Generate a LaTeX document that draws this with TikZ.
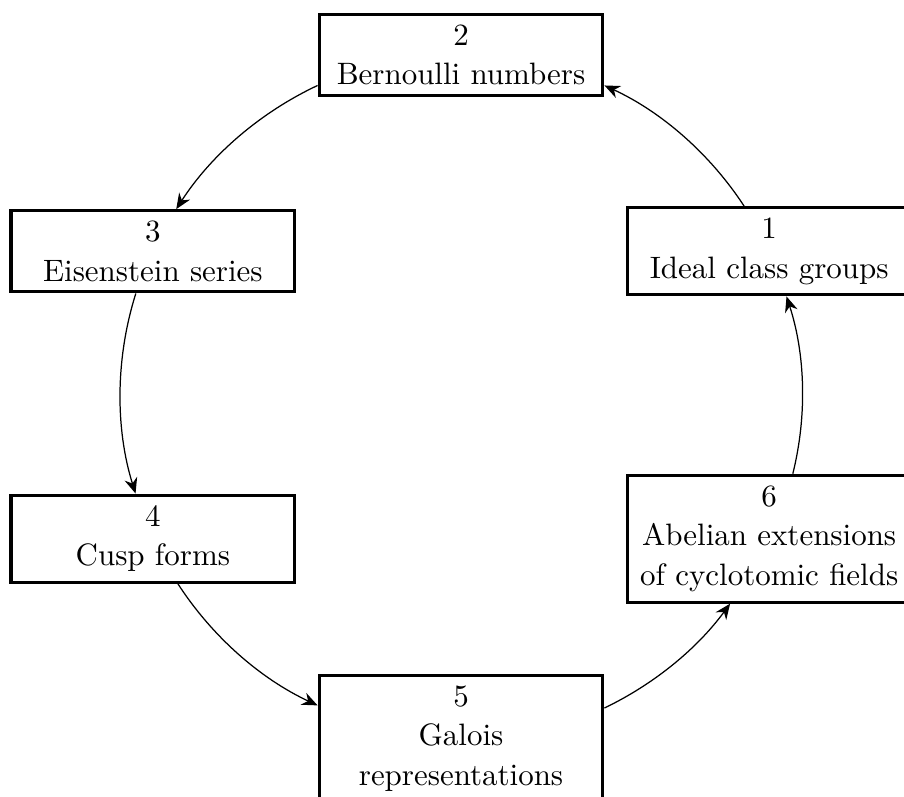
\documentclass[tikz,border=0pt]{standalone}
\usepackage{tikz}
\usetikzlibrary{arrows.meta}

\begin{document}
\begin{tikzpicture}[
  box/.style={draw, line width=1pt, text width=85pt, align=center,
    font=\fontsize{10}{12.8}\selectfont},
  cyc/.style={-{Stealth[length=5pt,width=4.2pt]}, bend right=16, looseness=.87}
]
\useasboundingbox (-5.234,-4.553) rectangle (5.029,4.484);
% Boxes on a circle
\def\rad{3.86}
\node[box] (n1) at (25:\rad) {1\\Ideal class groups};
\node[box] (n2) at (90:\rad) {2\\Bernoulli numbers};
\node[box] (n3) at (155:\rad) {3\\Eisenstein series};
\node[box] (n4) at (205:\rad) {4\\Cusp forms};
\node[box] (n5) at (0,-3.9) {5\\Galois\\representations};
\node[box] (n6) at (335:\rad) {6\\Abelian extensions\\of cyclotomic fields};
% Cycle of arrows
\draw[cyc] (n1.119) to (n2.-12.5);
\draw[cyc] (n2.192.5) to (n3.61);
\draw[cyc, bend right=17.5] (n3.248.6) to (n4.111);
\draw[cyc] (n4.-61) to (n5.167.5);
\draw[cyc, bend right=14] (n5.12.5) to (n6.-121);
\draw[cyc] (n6.70.5) to (n1.-69);
\end{tikzpicture}
\end{document}
